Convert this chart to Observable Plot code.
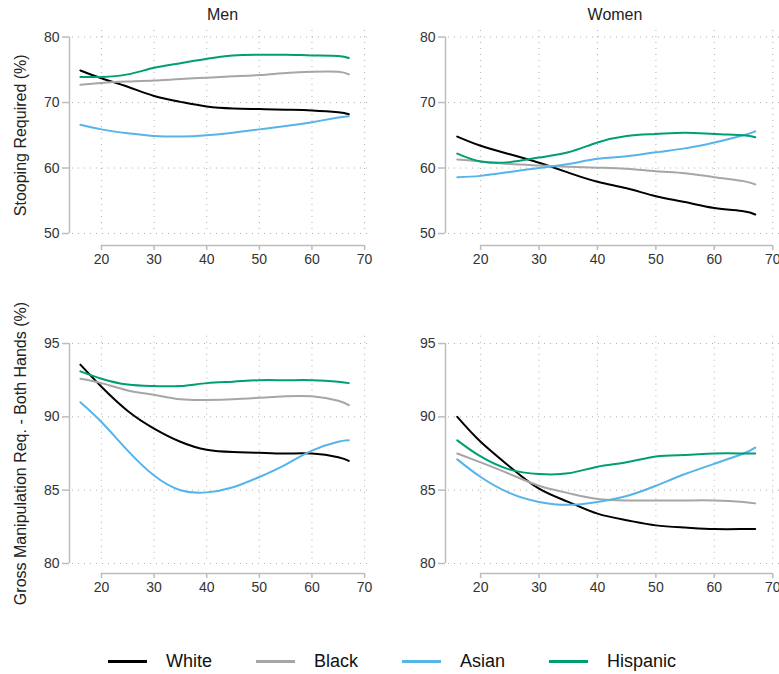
<!DOCTYPE html>
<html><head><meta charset="utf-8">
<script src="https://cdn.jsdelivr.net/npm/d3@7"></script>
<script src="https://cdn.jsdelivr.net/npm/@observablehq/plot@0.6"></script>
<style>
html,body{margin:0;padding:0;background:#fff;}
body{width:779px;height:674px;overflow:hidden;position:relative;font-family:"Liberation Sans",Arial,sans-serif;}
.panel{position:absolute;}
#legend{position:absolute;left:108px;top:649px;display:flex;align-items:center;height:24px;font-size:18px;color:#111;}
.item{display:flex;align-items:center;margin-right:44px;}
.swatch{width:39px;height:0;border-top:3px solid;margin-right:19px;}
</style></head><body>
<div id="legend"></div>
<script>
// ---- data ----
const ages = [16, 20, 25, 30, 35, 40, 45, 50, 55, 60, 65, 67];
const races = ["White", "Black", "Asian", "Hispanic"];
const palette = ["#000000", "#a6a6a6", "#56b4e9", "#009e73"];
const xTicks = [20, 30, 40, 50, 60, 70];
const stoopTicks = [50, 60, 70, 80];
const grossTicks = [80, 85, 90, 95];
const colTitles = ["Men", "Women"];
const rowTitles = ["Stooping Required (%)", "Gross Manipulation Req. - Both Hands (%)"];

// Stooping required, men
const stoopMenWhite    = [74.9, 73.7, 72.4, 71.0, 70.1, 69.4, 69.1, 69.0, 68.9, 68.8, 68.5, 68.2];
const stoopMenBlack    = [72.7, 73.0, 73.2, 73.35, 73.6, 73.8, 74.0, 74.2, 74.5, 74.7, 74.7, 74.3];
const stoopMenAsian    = [66.6, 65.9, 65.3, 64.9, 64.8, 65.0, 65.4, 65.9, 66.4, 67.0, 67.7, 67.9];
const stoopMenHispanic = [73.9, 73.9, 74.3, 75.3, 76.0, 76.7, 77.2, 77.3, 77.3, 77.2, 77.1, 76.8];
// Stooping required, women
const stoopWomenWhite    = [64.8, 63.4, 62.1, 60.8, 59.3, 57.9, 56.9, 55.7, 54.8, 53.9, 53.4, 52.9];
const stoopWomenBlack    = [61.3, 61.0, 60.6, 60.4, 60.2, 60.05, 59.9, 59.5, 59.2, 58.6, 58.0, 57.5];
const stoopWomenAsian    = [58.6, 58.8, 59.4, 60.0, 60.6, 61.4, 61.8, 62.4, 63.0, 63.9, 65.0, 65.6];
const stoopWomenHispanic = [62.2, 61.0, 60.9, 61.6, 62.4, 63.9, 64.9, 65.2, 65.4, 65.2, 65.0, 64.7];
// Gross manipulation, men
const grossMenWhite    = [93.56, 92.05, 90.4, 89.2, 88.3, 87.75, 87.6, 87.55, 87.5, 87.5, 87.25, 87.0];
const grossMenBlack    = [92.6, 92.3, 91.8, 91.5, 91.2, 91.15, 91.2, 91.3, 91.4, 91.4, 91.1, 90.8];
const grossMenAsian    = [91.0, 89.65, 87.7, 86.0, 85.0, 84.85, 85.2, 85.9, 86.75, 87.7, 88.3, 88.4];
const grossMenHispanic = [93.1, 92.6, 92.2, 92.1, 92.1, 92.3, 92.4, 92.5, 92.5, 92.5, 92.4, 92.3];
// Gross manipulation, women
const grossWomenWhite    = [90.0, 88.3, 86.6, 85.1, 84.2, 83.4, 82.95, 82.6, 82.45, 82.35, 82.35, 82.35];
const grossWomenBlack    = [87.5, 86.9, 86.1, 85.3, 84.8, 84.4, 84.3, 84.3, 84.3, 84.3, 84.2, 84.1];
const grossWomenAsian    = [87.1, 85.9, 84.8, 84.2, 84.0, 84.2, 84.6, 85.3, 86.1, 86.8, 87.5, 87.9];
const grossWomenHispanic = [88.4, 87.3, 86.4, 86.1, 86.15, 86.6, 86.9, 87.3, 87.4, 87.5, 87.5, 87.5];

function toRows(seriesList) {
  const rows = [];
  seriesList.forEach((vals, i) => vals.forEach((v, j) => rows.push({age: ages[j], race: races[i], value: v})));
  return rows;
}

const xDomain = [14.5, 71.5];
const font = "'Liberation Sans', Arial, sans-serif";
const axisColor = "#bdbdbd";
const gridColor = "#b0b0b0";

function makePanel({rows, yTicks, yDomain, gap, title, yLabel, left, top, width, height, marginTop, marginBottom}) {
  const marks = [
    Plot.gridX(xTicks, {stroke: gridColor, strokeOpacity: 1, strokeDasharray: "1,5"}),
    Plot.gridY(yTicks, {stroke: gridColor, strokeOpacity: 1, strokeDasharray: "1,5"}),
    Plot.ruleX([xDomain[0]], {y1: yTicks[0], y2: yTicks[yTicks.length - 1], dx: -3, stroke: axisColor, strokeWidth: 1.5}),
    Plot.ruleY([yDomain[0]], {x1: xTicks[0], x2: xTicks[xTicks.length - 1], dy: gap, stroke: axisColor, strokeWidth: 1.5}),
    Plot.axisY(yTicks, {anchor: "left", tickSize: 7, tickPadding: 3, dx: -3, stroke: axisColor, strokeWidth: 1.5, fill: "#333", fontSize: 14, label: null}),
    Plot.axisX(xTicks, {anchor: "bottom", tickSize: 5, tickPadding: 4, dy: gap, stroke: axisColor, strokeWidth: 1.5, fill: "#333", fontSize: 14, label: null}),
    Plot.line(rows, {x: "age", y: "value", stroke: "race", strokeWidth: 2, curve: "natural"})
  ];
  if (title) marks.push(Plot.text([title], {text: d => d, frameAnchor: "top", lineAnchor: "middle", dy: -16, fontSize: 16, fill: "#222"}));
  if (yLabel) {
    const mid = (yTicks[0] + yTicks[yTicks.length - 1]) / 2;
    marks.push(Plot.text([yLabel], {text: d => d, x: () => xDomain[0], y: () => mid, dx: -52, rotate: -90, fontSize: 16, fill: "#222"}));
  }
  const svg = Plot.plot({
    width, height, marginLeft: 72, marginRight: 18, marginTop, marginBottom,
    x: {domain: xDomain},
    y: {domain: yDomain},
    color: {domain: races, range: palette},
    style: {fontFamily: font, fontSize: "14px", background: "transparent", overflow: "visible"},
    marks
  });
  svg.classList.add("panel");
  svg.style.left = left + "px";
  svg.style.top = top + "px";
  document.body.appendChild(svg);
}

const stoopDomain = [50, 81];
const grossDomain = [80, 95.5];

makePanel({rows: toRows([stoopMenWhite, stoopMenBlack, stoopMenAsian, stoopMenHispanic]), yTicks: stoopTicks, yDomain: stoopDomain, gap: 12,
  title: colTitles[0], yLabel: rowTitles[0], left: 0, top: 0, width: 390, height: 280, marginTop: 30, marginBottom: 47});
makePanel({rows: toRows([stoopWomenWhite, stoopWomenBlack, stoopWomenAsian, stoopWomenHispanic]), yTicks: stoopTicks, yDomain: stoopDomain, gap: 12,
  title: colTitles[1], yLabel: null, left: 376, top: 0, width: 423, height: 280, marginTop: 30, marginBottom: 47});
makePanel({rows: toRows([grossMenWhite, grossMenBlack, grossMenAsian, grossMenHispanic]), yTicks: grossTicks, yDomain: grossDomain, gap: 10,
  title: null, yLabel: rowTitles[1], left: 0, top: 290, width: 390, height: 330, marginTop: 45.7, marginBottom: 57});
makePanel({rows: toRows([grossWomenWhite, grossWomenBlack, grossWomenAsian, grossWomenHispanic]), yTicks: grossTicks, yDomain: grossDomain, gap: 10,
  title: null, yLabel: null, left: 376, top: 290, width: 423, height: 330, marginTop: 45.7, marginBottom: 57});

// legend
const legend = document.getElementById("legend");
races.forEach((r, i) => {
  const item = document.createElement("div");
  item.className = "item";
  const sw = document.createElement("div");
  sw.className = "swatch";
  sw.style.borderTopColor = palette[i];
  const label = document.createElement("span");
  label.textContent = r;
  item.appendChild(sw); item.appendChild(label);
  legend.appendChild(item);
});
</script>
</body></html>
